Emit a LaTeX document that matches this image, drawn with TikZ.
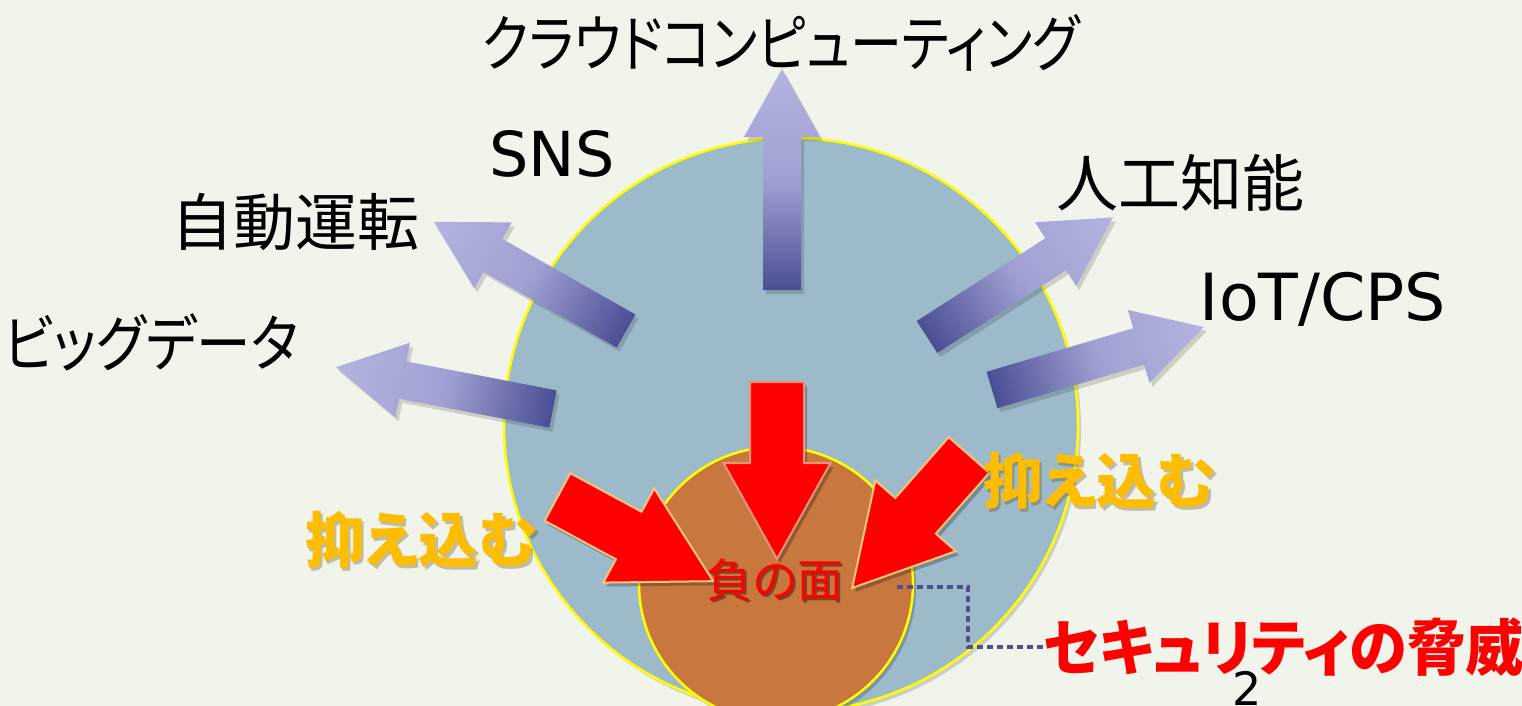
\documentclass[tikz,border=0pt]{standalone}
\usepackage{graphicx}
\usepackage{fontspec}
\setmainfont{DejaVu Sans}
\newfontfamily\jpfont[RawFeature=+palt]{Noto Sans CJK JP}
\definecolor{bgc}{RGB}{241,244,235}
\definecolor{bigc}{RGB}{157,186,203}
\definecolor{smallc}{RGB}{200,119,63}
\definecolor{ringc}{RGB}{255,255,0}
\definecolor{arrdark}{RGB}{74,78,148}
\definecolor{arrlight}{RGB}{179,179,224}
\definecolor{redfill}{RGB}{255,0,0}
\definecolor{redline}{RGB}{248,196,120}
\definecolor{redlinetwo}{RGB}{228,150,120}
\definecolor{orangetext}{RGB}{255,189,0}
\definecolor{dotc}{RGB}{80,80,138}

\newcommand\gradarrow[3]{%
  \begin{scope}[transform canvas={shift={(#1+3,#2+4)},rotate=#3}]
    \fill[black,opacity=0.15] (0,-19) -- (153,-19) -- (153,-38) -- (221,0) -- (153,38) -- (153,19) -- (0,19) -- cycle;
  \end{scope}
  \begin{scope}[transform canvas={shift={(#1,#2)},rotate=#3}]
    \shade[left color=arrdark,right color=arrlight,middle color=arrlight!82!arrdark] (0,-19) -- (153,-19) -- (153,-38) -- (221,0) -- (153,38) -- (153,19) -- (0,19) -- cycle;
  \end{scope}}

\newcommand\redarrow[4]{%
  \begin{scope}[transform canvas={shift={(#1+3,#2+4)},rotate=#3}]
    \fill[black,opacity=0.25] (0,-27) -- (81,-27) -- (81,-53.5) -- (177,0) -- (81,53.5) -- (81,27) -- (0,27) -- cycle;
  \end{scope}
  \begin{scope}[transform canvas={shift={(#1,#2)},rotate=#3}]
    \filldraw[fill=redfill,draw=#4,line width=2pt] (0,-27) -- (81,-27) -- (81,-53.5) -- (177,0) -- (81,53.5) -- (81,27) -- (0,27) -- cycle;
  \end{scope}}

\tikzset{
  jptext/.style={inner sep=0pt,text=black,font=\jpfont\fontsize{62pt}{70pt}\selectfont},
  latin/.style={inner sep=0pt,text=black,text depth=0pt,font=\fontsize{62pt}{70pt}\selectfont},
  osae/.style={inner sep=0pt,text=orangetext,font=\jpfont\bfseries\fontsize{60pt}{66pt}\selectfont},
  osaeshadow/.style={osae,text=black!70!orangetext,opacity=0.3},
  neg/.style={inner sep=0pt,text=redfill,font=\jpfont\fontsize{46pt}{50pt}\selectfont},
  negshadow/.style={neg,text=black,opacity=0.4},
  threat/.style={inner sep=0pt,text=redfill,anchor=west,font=\jpfont\bfseries\fontsize{61pt}{66pt}\selectfont},
  dotline/.style={dotc,line width=4.5pt,dash pattern=on 6pt off 4pt},
  ring/.style={draw=ringc,line width=2.5pt}
}

\begin{document}
\begin{tikzpicture}[x=1pt,y=-1pt]
\useasboundingbox (0,0) rectangle (1522,706);
\clip (0,0) rectangle (1522,706);
\fill[bgc] (0,0) rectangle (1522,706);

% big circle
\fill[black,opacity=0.15] (794,429) circle (287pt);
\fill[bigc] (791,425) circle (287pt);
\draw[ring] (791,425) circle (287pt);

% outward arrows
\gradarrow{782}{290}{90}
\gradarrow{927}{337}{32.75}
\gradarrow{992}{390}{16.55}
\gradarrow{626}{331}{150.4}
\gradarrow{553}{409}{169.1}

% small circle
\fill[black,opacity=0.2] (779,588) circle (137pt);
\fill[smallc] (776,584) circle (137pt);
\draw[ring] (776,584) circle (137pt);

% red arrows
\redarrow{777}{382}{-90}{redlinetwo}
\redarrow{557.5}{497}{-28.4}{redline}
\redarrow{969}{455}{-131.3}{redline}

% labels
\node[jptext] (cloud) at (781,43) {\scalebox{0.84}[1]{クラウドコンピューティング}};
\node[latin] (sns) at (552,153) {SNS};
\node[jptext] (jido) at (295,222) {自動運転};
\node[jptext] (bigdata) at (151,342) {\scalebox{0.88}[1]{ビッグデータ}};
\node[jptext] (ai) at (1180,183) {人工知能};
\node[latin,font=\fontsize{65pt}{70pt}\selectfont] (iot) at (1323,296) {IoT/CPS};

\node[osaeshadow] (osaeRs) at (1102.5,483.5) {抑え込む};
\node[osae] (osaeR) at (1100,481) {抑え込む};
\node[osaeshadow] (osaeLs) at (424.5,542.5) {抑え込む};
\node[osae] (osaeL) at (422,540) {抑え込む};

\node[negshadow] (negs) at (777,582) {負の面};
\node[neg] (neg) at (775,580) {負の面};

\node[threat] (threat) at (1043,647) {\scalebox{0.955}[1]{セキュリティの脅威}};
\coordinate (dstart) at (897,587);
\draw[dotline] (dstart) -- (968,587) |- (threat.west);

\node[inner sep=0pt,font=\fontsize{46pt}{50pt}\selectfont,anchor=north] (num) at (1247,671) {2};
\end{tikzpicture}
\end{document}
